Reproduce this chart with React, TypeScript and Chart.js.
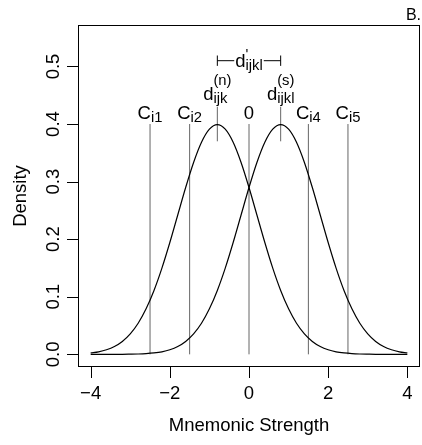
import React, { useEffect, useRef } from 'react';
import { Chart, registerables } from 'chart.js';

Chart.register(...registerables);

// Mnemonic strength grid (x) and the two density curves
const strengthX = [-4, -3.8, -3.6, -3.4, -3.2, -3, -2.8, -2.6, -2.4, -2.2, -2, -1.8, -1.6, -1.4, -1.2, -1, -0.8, -0.6, -0.4, -0.2, 0, 0.2, 0.4, 0.6, 0.8, 1, 1.2, 1.4, 1.6, 1.8, 2, 2.2, 2.4, 2.6, 2.8, 3, 3.2, 3.4, 3.6, 3.8, 4];
const newItemDensity = [0.0024, 0.0044, 0.0079, 0.0136, 0.0224, 0.0355, 0.054, 0.079, 0.1109, 0.1497, 0.1942, 0.242, 0.2897, 0.3332, 0.3683, 0.391, 0.3989, 0.391, 0.3683, 0.3332, 0.2897, 0.242, 0.1942, 0.1497, 0.1109, 0.079, 0.054, 0.0355, 0.0224, 0.0136, 0.0079, 0.0044, 0.0024, 0.0012, 0.0006, 0.0003, 0.0001, 0.0001, 0, 0, 0];
const studiedDensity = [0, 0, 0, 0.0001, 0.0001, 0.0003, 0.0006, 0.0012, 0.0024, 0.0044, 0.0079, 0.0136, 0.0224, 0.0355, 0.054, 0.079, 0.1109, 0.1497, 0.1942, 0.242, 0.2897, 0.3332, 0.3683, 0.391, 0.3989, 0.391, 0.3683, 0.3332, 0.2897, 0.242, 0.1942, 0.1497, 0.1109, 0.079, 0.054, 0.0355, 0.0224, 0.0136, 0.0079, 0.0044, 0.0024];

// Criteria
const criterionX = [-2.5, -1.5, 0, 1.5, 2.5];
const criterionBase = ['C', 'C', '0', 'C', 'C'];
const criterionSub = ['i1', 'i2', '', 'i4', 'i5'];
const criterionTop = 0.4;

// Means
const meanX = [-0.8, 0.8];
const meanSub = ['ijk', 'ijkl'];
const meanSup = ['(n)', '(s)'];
const meanLineFrom = 0.37;
const meanLineTo = 0.43;

// d' bracket
const bracketY = 0.51;

// Axes
const xTicks = [-4, -2, 0, 2, 4];
const xTickLabels = ['\u22124', '\u22122', '0', '2', '4'];
const yTicks = [0, 0.1, 0.2, 0.3, 0.4, 0.5];
const yTickLabels = ['0.0', '0.1', '0.2', '0.3', '0.4', '0.5'];
const xTitle = 'Mnemonic Strength';
const yTitle = 'Density';
const panelTitle = 'B.';

const FONT = '"Liberation Sans", Arial, Helvetica, sans-serif';
const f = (s: number) => `${s}px ${FONT}`;
const SCRIPT = 0.8;

function drawMath(ctx: CanvasRenderingContext2D, cx: number, baseline: number, base: string, sub: string, sup: string, size: number, subShift: number, supShift: number, scale = SCRIPT) {
  ctx.font = f(size);
  const wb = ctx.measureText(base).width;
  const ss = size * scale;
  ctx.font = f(ss);
  const ws = sub ? ctx.measureText(sub).width : 0;
  const wp = sup ? ctx.measureText(sup).width : 0;
  const total = wb + Math.max(ws, wp);
  const left = cx - total / 2;
  ctx.textAlign = 'left';
  ctx.textBaseline = 'alphabetic';
  ctx.font = f(size);
  ctx.fillText(base, left, baseline);
  ctx.font = f(ss);
  if (sub) ctx.fillText(sub, left + wb, baseline + subShift);
  if (sup) ctx.fillText(sup, left + wb, baseline - supShift);
  return { left, right: left + total };
}

const decorPlugin = {
  id: 'decor',
  afterDatasetsDraw(chart: any) {
    const ctx: CanvasRenderingContext2D = chart.ctx;
    const xs = chart.scales.x;
    const ys = chart.scales.y;
    const area = chart.chartArea;
    const FS = 18.5;
    ctx.save();
    ctx.fillStyle = '#000';
    ctx.strokeStyle = '#000';
    ctx.lineWidth = 1;

    // box
    ctx.strokeRect(Math.round(area.left) + 0.5, Math.round(area.top) + 0.5, Math.round(area.right - area.left) - 1, Math.round(area.bottom - area.top) - 1);
    const bottom = Math.round(area.bottom);
    const left = Math.round(area.left);

    // x axis
    ctx.beginPath();
    xTicks.forEach((v) => {
      const px = Math.round(xs.getPixelForValue(v)) + 0.5;
      ctx.moveTo(px, bottom - 1);
      ctx.lineTo(px, bottom + 11);
    });
    ctx.stroke();
    ctx.font = f(FS);
    ctx.textAlign = 'center';
    ctx.textBaseline = 'alphabetic';
    xTicks.forEach((v, i) => {
      ctx.fillText(xTickLabels[i], xs.getPixelForValue(v), bottom + 32);
    });
    ctx.fillText(xTitle, (area.left + area.right) / 2, bottom + 64);

    // y axis
    ctx.beginPath();
    yTicks.forEach((v) => {
      const py = Math.round(ys.getPixelForValue(v)) + 0.5;
      ctx.moveTo(left - 11, py);
      ctx.lineTo(left + 1, py);
    });
    ctx.stroke();
    yTicks.forEach((v, i) => {
      ctx.save();
      ctx.translate(left - 19, ys.getPixelForValue(v));
      ctx.rotate(-Math.PI / 2);
      ctx.fillText(yTickLabels[i], 0, 0);
      ctx.restore();
    });
    ctx.save();
    ctx.translate(left - 52, (area.top + area.bottom) / 2);
    ctx.rotate(-Math.PI / 2);
    ctx.fillText(yTitle, 0, 0);
    ctx.restore();

    // panel title
    ctx.textAlign = 'right';
    ctx.font = f(16);
    ctx.fillText(panelTitle, area.right + 1, area.top - 5);

    // criterion labels
    criterionX.forEach((v, i) => {
      drawMath(ctx, xs.getPixelForValue(v), ys.getPixelForValue(0.409), criterionBase[i], criterionSub[i], '', FS, 3, 0);
    });
    // mean labels
    meanX.forEach((v, i) => {
      drawMath(ctx, xs.getPixelForValue(v), ys.getPixelForValue(0.442), 'd', meanSub[i], meanSup[i], FS, 3, 15);
    });
    // d' label with gap in bracket
    {
      const cx = xs.getPixelForValue(0);
      const base = ys.getPixelForValue(0.499);
      ctx.font = f(FS);
      const wb = ctx.measureText('d').width;
      ctx.font = f(FS * SCRIPT);
      const ws = ctx.measureText('ijkl').width;
      const total = wb + ws;
      ctx.fillStyle = '#fff';
      ctx.fillRect(cx - total / 2 - 1, ys.getPixelForValue(bracketY) - 2, total + 2, 4);
      ctx.fillStyle = '#000';
      drawMath(ctx, cx, base, 'd', 'ijkl', "'", FS, 3, 8);
    }
    ctx.restore();
  },
};

export default function App() {
  const ref = useRef<HTMLCanvasElement | null>(null);
  useEffect(() => {
    if (!ref.current) return;
    const curve = (ys: number[]) => strengthX.map((x, i) => ({ x, y: ys[i] }));
    const seg = (a: [number, number], b: [number, number], color: string, width = 1) => ({
      data: [{ x: a[0], y: a[1] }, { x: b[0], y: b[1] }],
      borderColor: color,
      borderWidth: width,
      showLine: true,
      pointRadius: 0,
      tension: 0,
    });
    const datasets: any[] = [
      {
        data: curve(newItemDensity),
        borderColor: '#000',
        borderWidth: 1.2,
        showLine: true,
        pointRadius: 0,
        cubicInterpolationMode: 'monotone',
      },
      {
        data: curve(studiedDensity),
        borderColor: '#000',
        borderWidth: 1.2,
        showLine: true,
        pointRadius: 0,
        cubicInterpolationMode: 'monotone',
      },
    ];
    criterionX.forEach((c) => datasets.push(seg([c, 0], [c, criterionTop], '#666')));
    meanX.forEach((m) => datasets.push(seg([m, meanLineFrom], [m, meanLineTo], '#666')));
    datasets.push(seg([meanX[0], bracketY], [meanX[1], bracketY], '#000'));
    datasets.push(seg([meanX[0], bracketY - 0.009], [meanX[0], bracketY + 0.009], '#000'));
    datasets.push(seg([meanX[1], bracketY - 0.009], [meanX[1], bracketY + 0.009], '#000'));

    const chart = new Chart(ref.current, {
      type: 'scatter',
      data: { datasets },
      options: {
        animation: false,
        responsive: true,
        maintainAspectRatio: false,
        events: [],
        layout: { padding: { left: 78, right: 2, top: 25, bottom: 78 } },
        scales: {
          x: { type: 'linear', display: false, min: -4.32, max: 4.32 },
          y: { type: 'linear', display: false, min: -0.022, max: 0.572 },
        },
        plugins: { legend: { display: false }, tooltip: { enabled: false } },
      },
      plugins: [decorPlugin],
    } as any);
    return () => chart.destroy();
  }, []);
  return (
    <div style={{ position: 'absolute', left: 0, top: 0, width: 422, height: 445, background: '#fff' }}>
      <canvas ref={ref} />
    </div>
  );
}
